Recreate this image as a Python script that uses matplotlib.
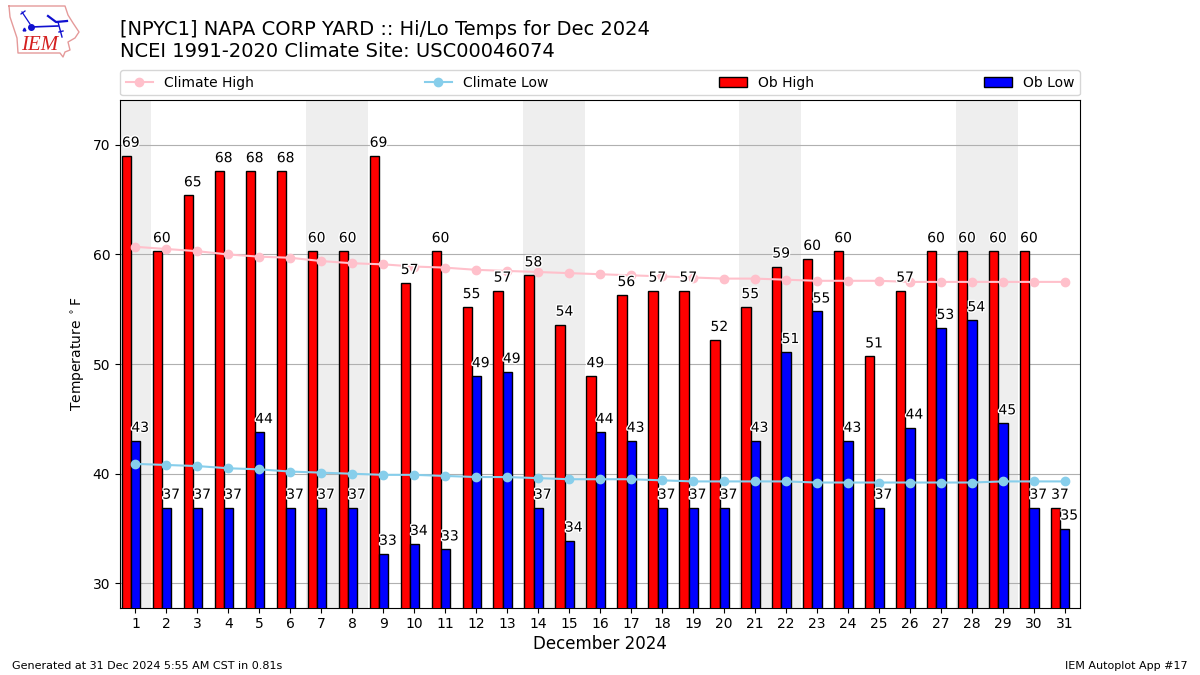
import numpy as np
import matplotlib
matplotlib.use('Agg')
import matplotlib.pyplot as plt
import matplotlib.patheffects as PathEffects

# Daily values, Dec 2024 (deg F)
days = np.arange(1, 32)
ob_high = [69.0, 60.3, 65.4, 67.6, 67.6, 67.6, 60.3, 60.3, 69.0, 57.4, 60.3, 55.2, 56.7, 58.1, 53.6, 48.9,
           56.3, 56.7, 56.7, 52.2, 55.2, 58.9, 59.6, 60.3, 50.7, 56.7, 60.3, 60.3, 60.3, 60.3, 36.9]
ob_low = [43.0, 36.9, 36.9, 36.9, 43.8, 36.9, 36.9, 36.9, 32.7, 33.6, 33.1, 48.9, 49.3, 36.9, 33.9, 43.8,
          43.0, 36.9, 36.9, 36.9, 43.0, 51.1, 54.8, 43.0, 36.9, 44.2, 53.3, 54.0, 44.6, 36.9, 35.0]
clim_high = [60.7, 60.5, 60.3, 60.0, 59.8, 59.7, 59.4, 59.2, 59.1, 58.9, 58.8, 58.6, 58.5, 58.4, 58.3, 58.2,
             58.1, 58.0, 57.9, 57.8, 57.8, 57.7, 57.6, 57.6, 57.6, 57.5, 57.5, 57.5, 57.5, 57.5, 57.5]
clim_low = [40.9, 40.8, 40.7, 40.5, 40.4, 40.2, 40.1, 40.0, 39.9, 39.9, 39.8, 39.7, 39.7, 39.6, 39.5, 39.5,
            39.5, 39.4, 39.3, 39.3, 39.3, 39.3, 39.2, 39.2, 39.2, 39.2, 39.2, 39.2, 39.3, 39.3, 39.3]
weekends = [(0.5, 1.5), (6.5, 8.5), (13.5, 15.5), (20.5, 22.5), (27.5, 29.5)]
yticks = [30, 40, 50, 60, 70]

# logo outline in pixels, drawn by eye
IOWA = [(9, 6), (65, 6), (68, 15), (73, 23), (79, 32), (75, 38), (68, 42), (70, 50), (65, 52), (63, 57), (60, 53),
        (18, 53), (17, 38), (10, 17), (9, 6)]

fig = plt.figure(figsize=(12, 6.75), dpi=100)
ax = fig.add_axes([0.1, 0.1, 0.8, 0.752])

for lo, hi in weekends:
    ax.axvspan(lo, hi, color='#eeeeee', zorder=1, lw=0)
ax.grid(axis='y', color='#b0b0b0', linewidth=0.8)

ax.bar(days - 0.44, ob_high, width=0.3, align='edge', color='red', edgecolor='black', linewidth=1,
       label='Ob High', zorder=3)
ax.bar(days - 0.14, ob_low, width=0.3, align='edge', color='blue', edgecolor='black', linewidth=1,
       label='Ob Low', zorder=3)
ax.plot(days, clim_high, color='pink', marker='o', label='Climate High', zorder=4)
ax.plot(days, clim_low, color='skyblue', marker='o', label='Climate Low', zorder=4)

#value labels, white halo so they stay readable over the lines
halo = [PathEffects.withStroke(linewidth=2, foreground='white')]
for d, hi, lo in zip(days, ob_high, ob_low):
    ax.text(d - 0.15, hi + 0.55, f'{hi:.0f}', ha='center', va='bottom', fontsize=10, path_effects=halo, zorder=5)
    ax.text(d + 0.15, lo + 0.55, f'{lo:.0f}', ha='center', va='bottom', fontsize=10, path_effects=halo, zorder=5)

ax.set_xlim(0.5, 31.5)
ax.set_ylim(27.8, 74.1)
ax.set_xticks(days)
ax.set_yticks(yticks)
ax.set_xlabel('December 2024', fontsize=12, labelpad=3)
ax.set_ylabel('Temperature $^\\circ$F')

handles, labels = ax.get_legend_handles_labels()
order = [labels.index(k) for k in ['Climate High', 'Climate Low', 'Ob High', 'Ob Low']]
ax.legend([handles[i] for i in order], [labels[i] for i in order], ncol=4, mode='expand', loc='lower left',
          bbox_to_anchor=(0, 1.009, 1, 0.05), borderaxespad=0)

fig.text(120 / 1200, 1 - 61 / 675, '[NPYC1] NAPA CORP YARD :: Hi/Lo Temps for Dec 2024\n'
         'NCEI 1991-2020 Climate Site: USC00046074', fontsize=14, ha='left', va='bottom')
fig.text(12 / 1200, 1 - 666 / 675, 'Generated at 31 Dec 2024 5:55 AM CST in 0.81s', fontsize=8, va='center')
fig.text(1188 / 1200, 1 - 666 / 675, 'IEM Autoplot App #17', fontsize=8, va='center', ha='right')

# Logo
logo = fig.add_axes([0, 1 - 65 / 675, 90 / 1200, 65 / 675])
logo.set_xlim(0, 90)
logo.set_ylim(65, 0)
logo.axis('off')
logo.plot(*zip(*IOWA), color='#e59a9a', linewidth=1)
logo.plot([31, 58], [27, 26], color='#1010d0', linewidth=1.2)
logo.plot([31], [27], 'o', color='#1010d0', markersize=4)
logo.plot([22, 30], [12, 24], color='#1010d0', linewidth=0.9)
logo.plot([21, 25], [14, 11], color='#1010d0', linewidth=0.9)
logo.plot([48, 56, 67], [16, 22, 21], color='#1010d0', linewidth=1.6)
logo.plot([58, 62], [22, 37], color='#1010d0', linewidth=1)
logo.plot([24], [29], '^', color='#1010d0', markersize=2)
logo.plot([59, 63], [32, 31], color='#1010d0', linewidth=1)
logo.text(21, 45, 'IEM', color='#d42020', fontsize=15, family='Liberation Serif', style='italic', va='center')

plt.savefig('out.png', dpi=100)
plt.close()
